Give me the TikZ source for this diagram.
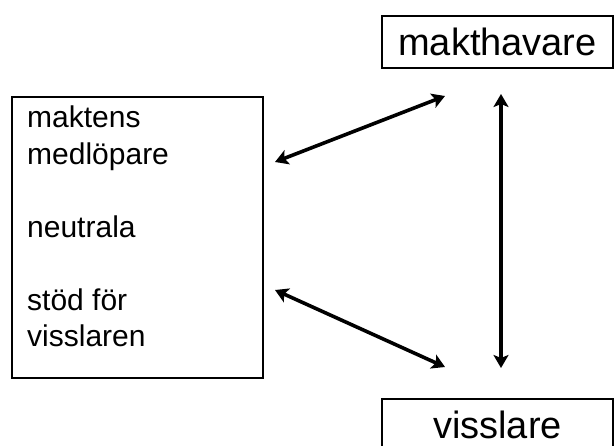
\documentclass[tikz,border=0pt]{standalone}
\usepackage{fontspec}
\setmainfont{Liberation Sans}
\usetikzlibrary{arrows.meta}

\tikzset{
	rolebox/.style={draw, line width=1.4pt, minimum width=231, minimum height=52, inner sep=0pt, font=\fontsize{38}{44}\selectfont},
	grouptext/.style={anchor=base west, inner sep=0pt, font=\fontsize{30}{36}\selectfont},
	relation/.style={{Stealth[length=13pt,width=15pt,inset=3pt]}-{Stealth[length=13pt,width=15pt,inset=3pt]}, line width=3.6pt}
}

\begin{document}
\begin{tikzpicture}[x=1pt,y=-1pt]
		\clip (0,0) rectangle (615,446);
		\useasboundingbox (0,0) rectangle (615,446);
		
		%roles
		\node[rolebox] (makt) at (497.5,42) {makthavare};
		\node[rolebox] (viss) at (497.5,425) {visslare};
		
		%the others
		\node[draw, line width=1.4pt, minimum width=251, minimum height=281, inner sep=0pt] (group) at (137.5,237.5) {};
		\node[grouptext] (maktens) at (27,128) {maktens};
		\node[grouptext] (medl) at (27,164.5) {medlöpare};
		\node[grouptext] (neutr) at (27,237) {neutrala};
		\node[grouptext] (stod) at (27,310) {stöd för};
		\node[grouptext] (vissl) at (27,346) {visslaren};
		
		%arrow ends
		\coordinate (maktL) at (445,96);
		\coordinate (medlR) at (275,162);
		\coordinate (stodR) at (275,290);
		\coordinate (vissL) at (445,367);
		\coordinate (maktB) at (501,94);
		\coordinate (vissT) at (501,368);
		
		%relations
		\draw[relation] (medlR) -- (maktL);
		\draw[relation] (stodR) -- (vissL);
		\draw[relation] (maktB) -- (vissT);
\end{tikzpicture}
\end{document}
